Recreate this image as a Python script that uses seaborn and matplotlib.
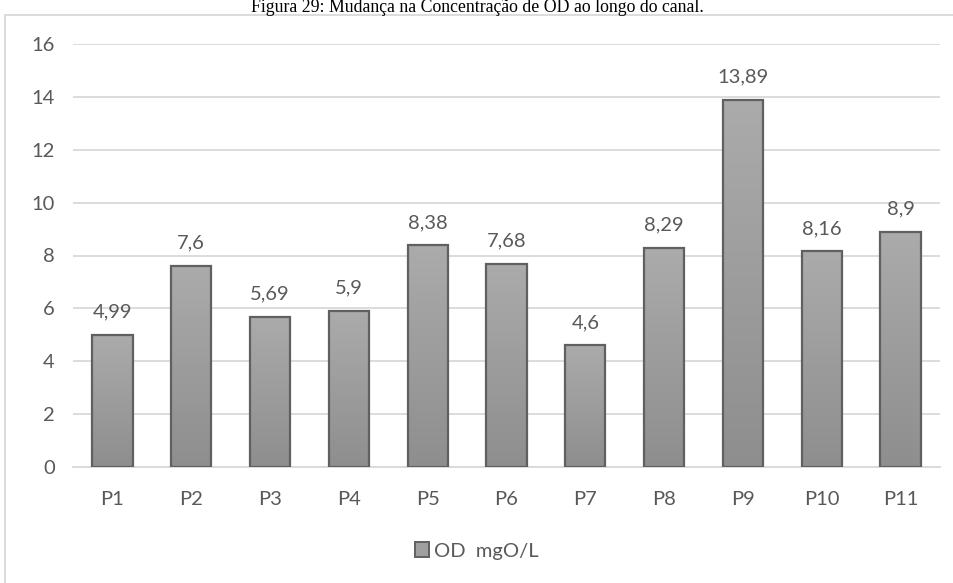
import numpy as np
import pandas as pd
import matplotlib
matplotlib.use("Agg")
import matplotlib.pyplot as plt
import matplotlib.patches as mpatches
from matplotlib.colors import LinearSegmentedColormap
import seaborn as sns

categories = ["P1", "P2", "P3", "P4", "P5", "P6", "P7", "P8", "P9", "P10", "P11"]
values = [4.99, 7.6, 5.69, 5.9, 8.38, 7.68, 4.6, 8.29, 13.89, 8.16, 8.9]
value_labels = ["4,99", "7,6", "5,69", "5,9", "8,38", "7,68", "4,6", "8,29", "13,89", "8,16", "8,9"]
series_name = "OD  mgO/L"
title = "Figura 29: Mudança na Concentração de OD ao longo do canal."

sns.set_theme(style="white")
plt.rcParams["font.family"] = ["Lato", "DejaVu Sans"]

FS = 14.5
TXT = "#595959"

df = pd.DataFrame({"cat": categories, "val": values})

fig = plt.figure(figsize=(9.54, 5.83), dpi=100)
ax = fig.add_axes([73/954, 1-467/583, (940-73)/954, (467-44)/583])

sns.barplot(data=df, x="cat", y="val", ax=ax, color="#a0a0a0", width=0.51,
            edgecolor="#606060", linewidth=1.6, saturation=1, zorder=3)

ax.set_ylim(0, 16)
ax.set_xlim(-0.5, len(categories) - 0.5)
ax.set_yticks(np.arange(0, 17, 2))
ax.yaxis.grid(True, color="#d9d9d9", linewidth=1.3, zorder=0)
ax.set_axisbelow(True)
for s in ax.spines.values():
    s.set_visible(False)
ax.spines["bottom"].set_visible(True)
ax.spines["bottom"].set_color("#d9d9d9")
ax.spines["bottom"].set_linewidth(1.3)
ax.set_xlabel("")
ax.set_ylabel("")
ax.tick_params(axis="both", length=0, labelsize=FS, labelcolor=TXT)
ax.tick_params(axis="x", pad=17)
ax.tick_params(axis="y", pad=13)

# gradient fill
cmap = LinearSegmentedColormap.from_list("g", ["#8e8e8e", "#ababab"])
grad = np.linspace(0, 1, 256).reshape(-1, 1)
for p in list(ax.patches):
    x0, y0 = p.get_x(), p.get_y()
    w, h = p.get_width(), p.get_height()
    im = ax.imshow(grad, extent=[x0, x0 + w, y0, y0 + h], origin="lower",
                   cmap=cmap, aspect="auto", zorder=3.5)
    im.set_clip_path(p)
    p.set_facecolor("none")
    p.set_zorder(4)
ax.set_xlim(-0.5, len(categories) - 0.5)
ax.set_ylim(0, 16)

for i, (v, lab) in enumerate(zip(values, value_labels)):
    ax.annotate(lab, (i, v), xytext=(0, 12.5), textcoords="offset points",
                ha="center", va="baseline", fontsize=FS, color=TXT)

# legend
handle = mpatches.Patch(facecolor="#a0a0a0", edgecolor="#606060", linewidth=1.4, label=series_name)
fig.legend(handles=[handle], loc="center", bbox_to_anchor=(477/954, 1-551/583),
           frameon=False, fontsize=FS, labelcolor=TXT, handlelength=0.7,
           handleheight=0.7, handletextpad=0.25)

# chart border
fig.patches.append(mpatches.Rectangle((5/954, -0.01), 1.0, 1-15/583 + 0.01,
                                      transform=fig.transFigure, fill=False,
                                      edgecolor="#d9d9d9", linewidth=1.3, zorder=0))

fig.text(0.5, 1 - 12/583, title, ha="center", va="baseline",
         fontsize=12.8, family=["Liberation Serif", "DejaVu Serif"], color="black")

fig.savefig("out.png", dpi=100)
